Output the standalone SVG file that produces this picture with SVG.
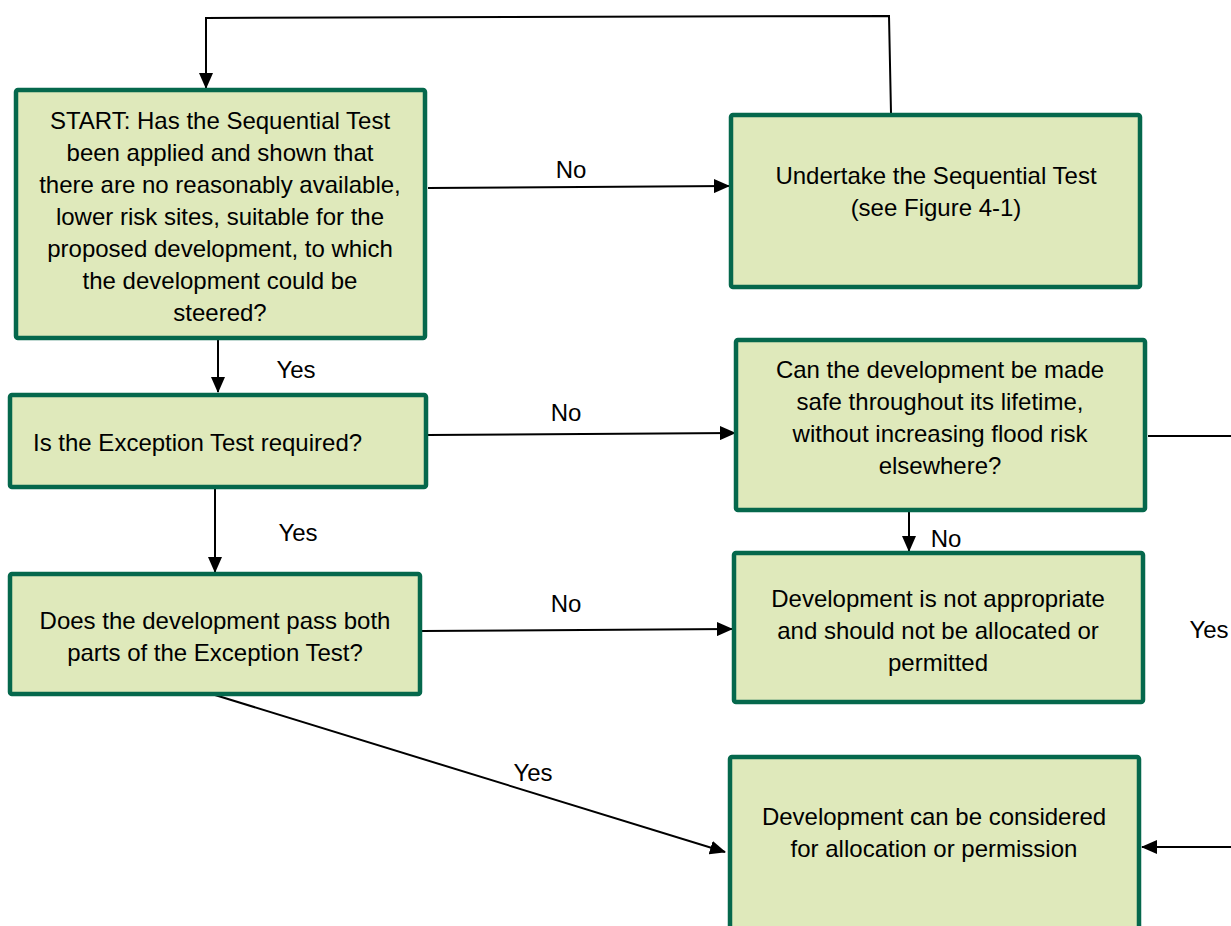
<svg xmlns="http://www.w3.org/2000/svg" width="1231" height="926" viewBox="0 0 1231 926">
<style>
.box{fill:#dfe9bb;stroke:#05684c;stroke-width:4.5}
.t{font-family:"Liberation Sans",Arial,sans-serif;font-size:24px;fill:#000;text-anchor:middle}
.c{fill:none;stroke:#000;stroke-width:2}
</style>
<defs>
<marker id="ah" markerUnits="userSpaceOnUse" markerWidth="16" markerHeight="14" refX="15" refY="7" orient="auto">
<path d="M0,0 L16,7 L0,14 Z" fill="#000"/>
</marker>
</defs>
<rect width="1231" height="926" fill="#fff"/>
<g id="connectors">
<path class="c" d="M891,113 L889,16 L206,18 L206,88" marker-end="url(#ah)"/>
<path class="c" d="M428,188 L729,186" marker-end="url(#ah)"/>
<path class="c" d="M218,340 L218,392" marker-end="url(#ah)"/>
<path class="c" d="M428,435 L735,433" marker-end="url(#ah)"/>
<path class="c" d="M215,488 L215,572" marker-end="url(#ah)"/>
<path class="c" d="M422,631 L732,629" marker-end="url(#ah)"/>
<path class="c" d="M909,512 L909,551" marker-end="url(#ah)"/>
<path class="c" d="M1148,436 L1231,436"/>
<path class="c" d="M1231,847 L1142,847" marker-end="url(#ah)"/>
<path class="c" d="M215,695 L725,852" marker-end="url(#ah)"/>
<text class="t" x="571" y="178">No</text>
<text class="t" x="296" y="378">Yes</text>
<text class="t" x="566" y="421">No</text>
<text class="t" x="298" y="541">Yes</text>
<text class="t" x="566" y="612">No</text>
<text class="t" x="946" y="547">No</text>
<text class="t" x="1209" y="638">Yes</text>
<text class="t" x="533" y="781">Yes</text>
</g>
<g id="start">
<rect class="box" x="16" y="90" width="409" height="248" rx="2"/>
<text class="t" x="220" y="129">START: Has the Sequential Test</text>
<text class="t" x="220" y="161">been applied and shown that</text>
<text class="t" x="220" y="193">there are no reasonably available,</text>
<text class="t" x="220" y="225">lower risk sites, suitable for the</text>
<text class="t" x="220" y="257">proposed development, to which</text>
<text class="t" x="220" y="289">the development could be</text>
<text class="t" x="220" y="321">steered?</text>
</g>
<g id="undertake">
<rect class="box" x="731" y="115" width="409" height="172" rx="2"/>
<text class="t" x="936" y="184">Undertake the Sequential Test</text>
<text class="t" x="936" y="216">(see Figure 4-1)</text>
</g>
<g id="exception-required">
<rect class="box" x="10" y="395" width="416" height="92" rx="2"/>
<text class="t" x="33" y="451" style="text-anchor:start">Is the Exception Test required?</text>
</g>
<g id="made-safe">
<rect class="box" x="736" y="340" width="409" height="170" rx="2"/>
<text class="t" x="940" y="378">Can the development be made</text>
<text class="t" x="940" y="410">safe throughout its lifetime,</text>
<text class="t" x="940" y="442">without increasing flood risk</text>
<text class="t" x="940" y="474">elsewhere?</text>
</g>
<g id="pass-both">
<rect class="box" x="10" y="574" width="410" height="120" rx="2"/>
<text class="t" x="215" y="629">Does the development pass both</text>
<text class="t" x="215" y="661">parts of the Exception Test?</text>
</g>
<g id="not-appropriate">
<rect class="box" x="734" y="553" width="409" height="149" rx="2"/>
<text class="t" x="938" y="607">Development is not appropriate</text>
<text class="t" x="938" y="639">and should not be allocated or</text>
<text class="t" x="938" y="671">permitted</text>
</g>
<g id="considered">
<rect class="box" x="730" y="757" width="409" height="180" rx="2"/>
<text class="t" x="934" y="825">Development can be considered</text>
<text class="t" x="934" y="857">for allocation or permission</text>
</g>
</svg>
